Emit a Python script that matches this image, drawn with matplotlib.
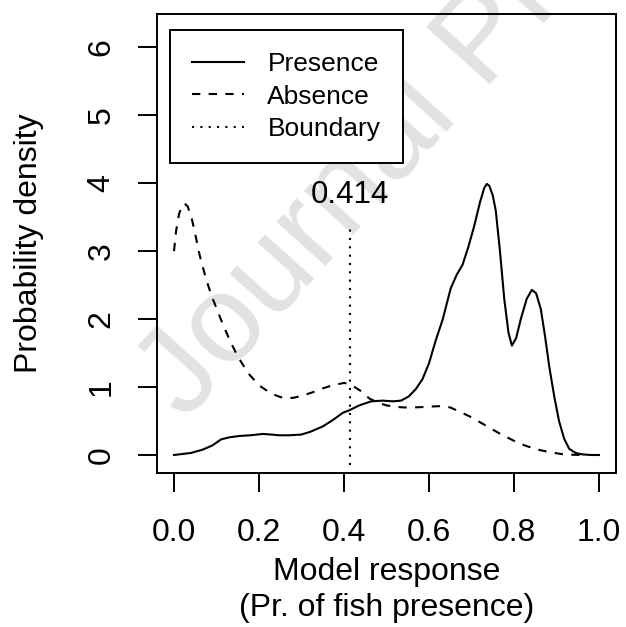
import matplotlib
matplotlib.use("Agg")
import matplotlib.pyplot as plt

# === data ===
presence_x = [0.0, 0.04, 0.068, 0.09, 0.111, 0.13, 0.154, 0.18, 0.209, 0.23, 0.248, 0.27,
              0.299, 0.32, 0.35, 0.375, 0.397, 0.413, 0.436, 0.464, 0.491, 0.515, 0.534,
              0.552, 0.569, 0.585, 0.60, 0.616, 0.632, 0.651, 0.665, 0.679, 0.692, 0.706,
              0.72, 0.73, 0.736, 0.742, 0.75, 0.757, 0.767, 0.777, 0.787, 0.795, 0.805,
              0.816, 0.83, 0.842, 0.852, 0.863, 0.873, 0.883, 0.895, 0.906, 0.918, 0.93,
              0.945, 0.96, 0.98, 1.0]
presence_y = [0.0, 0.03, 0.08, 0.14, 0.23, 0.26, 0.28, 0.29, 0.31, 0.30, 0.29, 0.29,
              0.30, 0.34, 0.42, 0.52, 0.62, 0.66, 0.73, 0.79, 0.80, 0.79, 0.80,
              0.86, 0.97, 1.12, 1.35, 1.69, 1.99, 2.45, 2.65, 2.80, 3.05, 3.36,
              3.72, 3.93, 3.99, 3.96, 3.82, 3.60, 3.00, 2.30, 1.80, 1.61, 1.72,
              2.00, 2.30, 2.43, 2.38, 2.15, 1.75, 1.30, 0.85, 0.50, 0.24, 0.09,
              0.03, 0.01, 0.0, 0.0]

absence_x = [0.0, 0.005, 0.012, 0.02, 0.025, 0.032, 0.041, 0.05, 0.06, 0.075, 0.088, 0.11,
             0.131, 0.15, 0.175, 0.201, 0.23, 0.256, 0.28, 0.30, 0.325, 0.35, 0.375, 0.40,
             0.41, 0.425, 0.44, 0.46, 0.48, 0.50, 0.52, 0.54, 0.56, 0.585, 0.61, 0.632,
             0.65, 0.671, 0.695, 0.718, 0.74, 0.765, 0.79, 0.812, 0.835, 0.859, 0.885,
             0.914, 0.94, 0.96]
absence_y = [3.0, 3.3, 3.55, 3.68, 3.70, 3.66, 3.50, 3.25, 2.95, 2.60, 2.35, 2.0,
             1.69, 1.45, 1.20, 1.02, 0.90, 0.84, 0.84, 0.87, 0.92, 0.98, 1.03, 1.06,
             1.05, 1.0, 0.94, 0.83, 0.77, 0.73, 0.71, 0.70, 0.70, 0.705, 0.715, 0.72,
             0.70, 0.64, 0.57, 0.49, 0.41, 0.32, 0.24, 0.17, 0.12, 0.075, 0.04,
             0.012, 0.003, 0.0]

boundary = 0.414
boundary_label = "0.414"
x_ticks = [0.0, 0.2, 0.4, 0.6, 0.8, 1.0]
y_ticks = [0, 1, 2, 3, 4, 5, 6]

plt.rcParams['font.family'] = ['Liberation Sans', 'DejaVu Sans']

W, H = 626, 627
fig = plt.figure(figsize=(W / 100, H / 100), dpi=100)
ax = fig.add_axes([157 / W, 1 - 473 / H, 459 / W, 459 / H])
ax.set_facecolor('none')

lw = 1.5
ax.plot(presence_x, presence_y, color='black', lw=lw, label='Presence')
ax.plot(absence_x, absence_y, color='black', lw=lw, linestyle=(0, (4, 4)), label='Absence')
ax.plot([boundary, boundary], [-0.15, 3.4], color='black', lw=lw,
        linestyle=(0, (1, 3)), label='Boundary')
ax.text(boundary, 3.82, boundary_label, ha='center', va='center', fontsize=22.5)

ax.set_xlim(-0.04, 1.04)
ax.set_ylim(-0.265, 6.49)
ax.set_xticks(x_ticks)
ax.set_xticklabels([f"{v:.1f}" for v in x_ticks])
ax.set_yticks(y_ticks)
ax.set_yticklabels([str(v) for v in y_ticks])
ax.tick_params(length=13.7, width=1.4, labelsize=23, direction='out')
ax.tick_params(axis='x', pad=18.5)
ax.tick_params(axis='y', pad=15.5, labelrotation=90)
for lab in ax.get_yticklabels():
    lab.set_va('center')
for sp in ax.spines.values():
    sp.set_linewidth(1.4)

ax.set_xlabel("Model response\n(Pr. of fish presence)", fontsize=23, linespacing=1.25,
              va='top')
ax.xaxis.set_label_coords(0.5, (473 - 557) / 459)
ax.set_ylabel("Probability density", fontsize=23, va='center')
ax.yaxis.set_label_coords((29 - 157) / 459, 0.5)

leg = ax.legend(loc='upper left', bbox_to_anchor=(13 / 459, 443 / 459), borderaxespad=0,
                fontsize=19, frameon=True, fancybox=False, framealpha=1,
                edgecolor='black', handlelength=1.97, handletextpad=0.87,
                borderpad=0.85, labelspacing=0.31)
leg.get_frame().set_linewidth(1.4)

# faint watermark behind everything
fig.text(186 / W, 1 - 422 / H, "Journal Pre-proof", fontsize=90, color='#e2e2e2',
         rotation=48, rotation_mode='anchor', ha='left', va='baseline', zorder=-1)

fig.savefig("out.png", dpi=100)
